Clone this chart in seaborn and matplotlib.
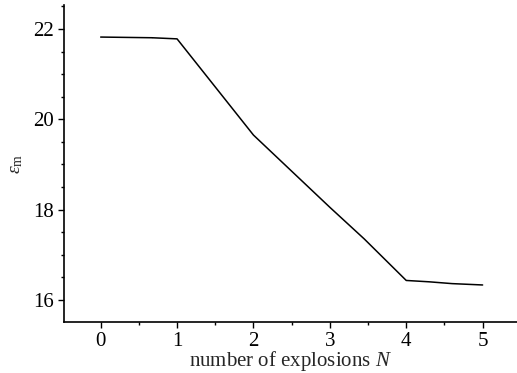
import matplotlib
matplotlib.use("Agg")
import matplotlib.pyplot as plt
from matplotlib.ticker import MultipleLocator
import seaborn as sns
import pandas as pd

N = [0, 0.67, 0.67, 1, 2, 3, 3.45, 4, 4.3, 4.6, 5]
eps = [21.82, 21.82, 21.79, 21.78, 19.65, 18.05, 17.35, 16.43, 16.40, 16.36, 16.33]
xticks = [0, 1, 2, 3, 4, 5]
yticks = [16, 18, 20, 22]

sns.set_style("ticks")
plt.rcParams['font.family'] = ['Liberation Serif', 'DejaVu Serif']
plt.rcParams['mathtext.fontset'] = 'custom'
plt.rcParams['mathtext.rm'] = 'Liberation Serif'
plt.rcParams['mathtext.it'] = 'Liberation Serif:italic'

df = pd.DataFrame({"N": N, "eps": eps})
fig = plt.figure(figsize=(5.17, 3.73), dpi=100)
ax = fig.add_axes([64/517, 1-322/373, 1-64/517, (322-5)/373])
sns.lineplot(data=df, x="N", y="eps", ax=ax, color="black", linewidth=1.1, sort=False)
ax.set_xlim(-0.48, 5.45)
ax.set_ylim(15.51, 22.53)
ax.set_xticks(xticks)
ax.set_yticks(yticks)
ax.xaxis.set_minor_locator(MultipleLocator(0.5))
ax.yaxis.set_minor_locator(MultipleLocator(0.5))
ax.tick_params(which="major", direction="out", length=4.5, width=1, labelsize=15,
               color="black", labelcolor="black", pad=2.5)
ax.tick_params(which="minor", direction="out", length=2.5, width=1, color="black")
for s in ["left", "bottom"]:
    ax.spines[s].set_color("black")
    ax.spines[s].set_linewidth(1.2)
sns.despine(ax=ax)
ax.set_xlabel(r"number of explosions $\mathit{N}$", fontsize=15, labelpad=-1)
ax.set_ylabel(r"$\mathit{\varepsilon}_{\mathrm{m}}$", fontsize=14, labelpad=6)
fig.savefig("out.png", dpi=100)
